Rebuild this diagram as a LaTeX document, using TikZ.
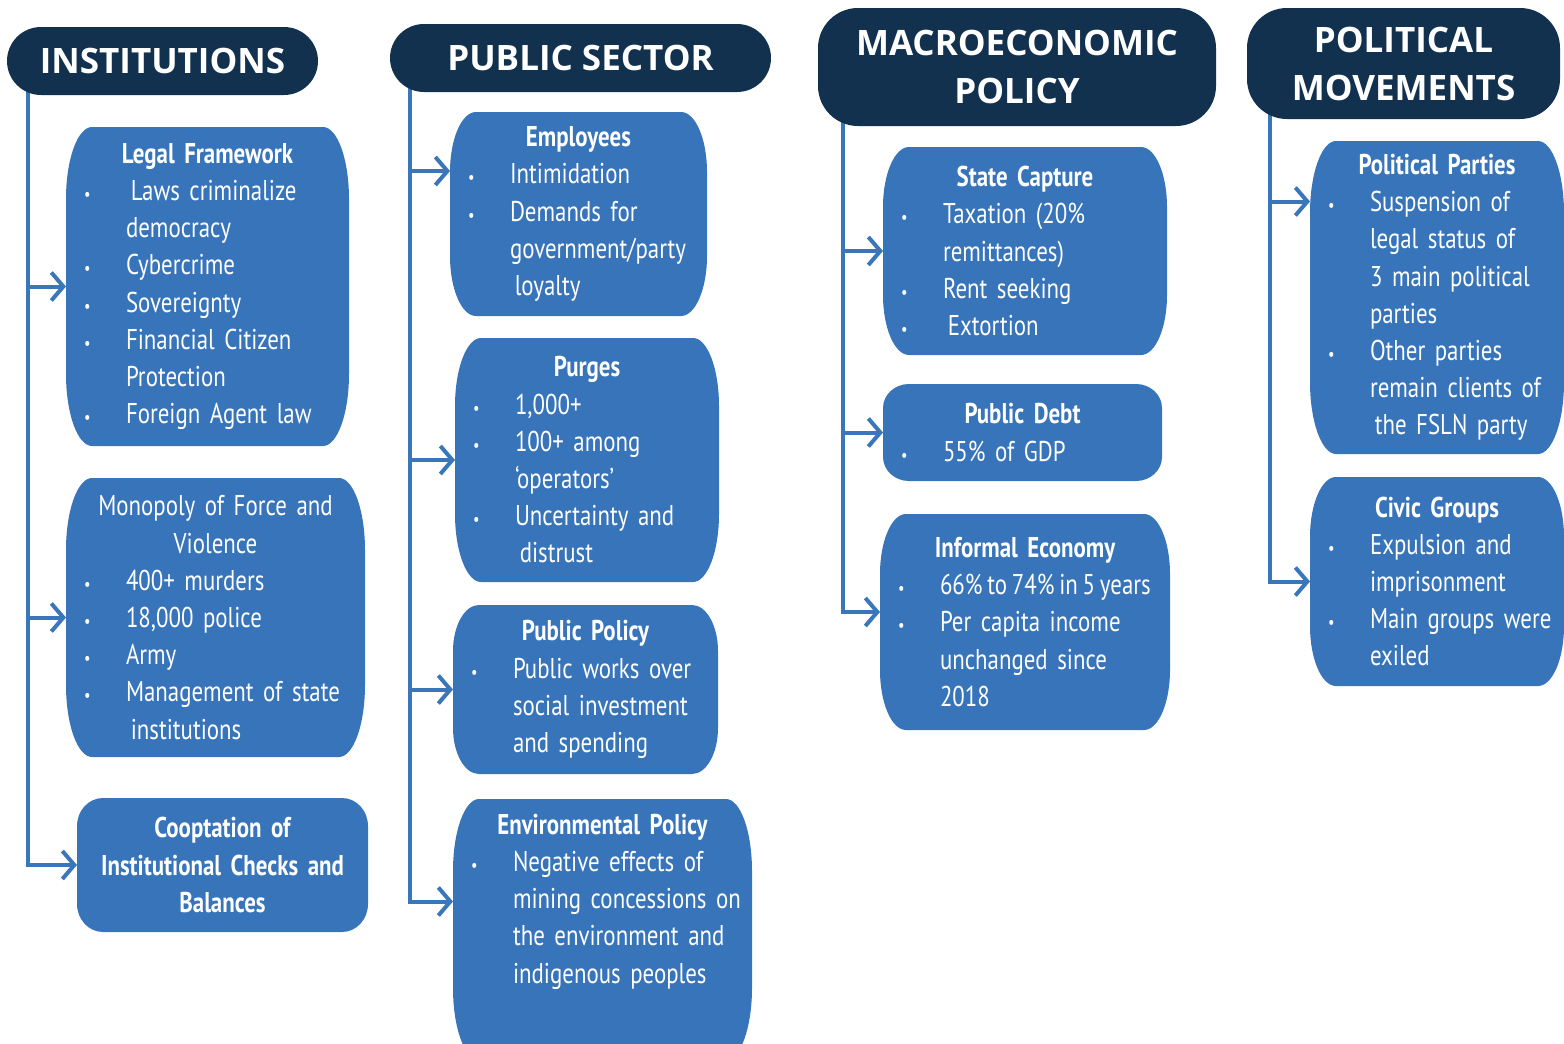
\documentclass[tikz,border=0pt]{standalone}
\usepackage{fontspec}
\setmainfont{PT Sans}[FakeStretch=0.8]
\newfontfamily\hdfont{Open Sans}
\usetikzlibrary{arrows.meta,backgrounds}

\definecolor{navy}{HTML}{12314F}
\definecolor{boxblue}{HTML}{3774B9}
\definecolor{linkblue}{HTML}{3A76BA}

\newcommand\ttl[1]{\mbox{}\hfill\mbox{\bfseries #1}\hfill\mbox{}\par}
\newcommand\ctr[1]{\mbox{}\hfill\mbox{#1}\hfill\mbox{}\par}
\newcommand\bul[1]{\mbox{\makebox[22pt][l]{\hspace*{1pt}\fontsize{9}{9}\selectfont\textbullet}#1}\par}
\newcommand\cnt[1]{\mbox{\hspace*{22pt}#1}\par}

\begin{document}
\begin{tikzpicture}[x=0.5pt,y=-0.5pt,
	head/.style={fill=navy,text=white,align=center,inner sep=0pt,outer sep=0pt,
		font=\hdfont\bfseries\fontsize{17.5}{24}\selectfont},
	topic/.style={text=white,inner xsep=8pt,inner ysep=0pt,outer sep=0pt,
		font=\fontsize{14.3}{18.6}\selectfont},
	feed/.style={draw=linkblue,line width=2pt,-{Straight Barb[length=6pt,width=14pt]}}]
	\useasboundingbox (0,0) rectangle (1564,1044);

	% column heads
	\node[head,minimum width=155.5pt,minimum height=34pt,rounded corners=17pt] (inst) at (162.5,61) {INSTITUTIONS};
	\node[head,minimum width=190.5pt,minimum height=34pt,rounded corners=17pt] (pubsec) at (580.5,58) {PUBLIC SECTOR};
	\node[head,minimum width=199pt,minimum height=59pt,rounded corners=20pt] (macro) at (1017,67) {MACROECONOMIC\\POLICY};
	\node[head,minimum width=156.5pt,minimum height=55.5pt,rounded corners=20pt] (polit) at (1403.5,63.5) {POLITICAL\\MOVEMENTS};

	% institutions
	\node[topic,text width=125.5pt,minimum height=159.5pt] (legal) at (207.5,286.5) {\ttl{Legal Framework}
		\bul{\,Laws criminalize}
		\cnt{democracy}
		\bul{Cybercrime}
		\bul{Sovereignty}
		\bul{Financial Citizen}
		\cnt{Protection}
		\bul{Foreign Agent law}};
	\node[topic,text width=133.5pt,minimum height=139.5pt] (force) at (215.5,617.5) {\ctr{Monopoly of Force and}
		\ctr{Violence}
		\bul{400+ murders}
		\bul{18,000 police}
		\bul{Army}
		\bul{Management of state}
		\cnt{\,institutions}};
	\node[topic,text width=129.5pt,minimum height=67pt] (coop) at (222.5,865) {\ttl{Cooptation of}
		\ttl{Institutional Checks and}
		\ttl{Balances}};

	% public sector
	\node[topic,text width=112.5pt,minimum height=102pt] (staff) at (578.5,214) {\ttl{Employees}
		\bul{Intimidation}
		\bul{Demands for}
		\cnt{government/party}
		\cnt{\,loyalty}};
	\node[topic,text width=116pt,minimum height=122pt] (purge) at (587,460) {\ttl{Purges}
		\bul{1,000+}
		\bul{100+ among}
		\cnt{‘operators’}
		\bul{Uncertainty and}
		\cnt{\,distrust}};
	\node[topic,text width=116.5pt,minimum height=84.5pt] (ppol) at (585.5,689.5) {\ttl{Public Policy}
		\bul{Public works over}
		\cnt{social investment}
		\cnt{and spending}};
	\node[topic,text width=133.5pt,minimum height=102.5pt] (env) at (602.5,901.5) {\ttl{Environmental Policy}
		\bul{Negative effects of}
		\cnt{mining concessions on}
		\cnt{the environment and}
		\cnt{indigenous peoples}};

	% macroeconomic policy
	\node[topic,text width=126pt,minimum height=104pt] (capture) at (1025,251) {\ttl{State Capture}
		\bul{Taxation (20\%}
		\cnt{remittances)}
		\bul{Rent seeking}
		\bul{\,Extortion}};
	\node[topic,text width=123.5pt,minimum height=48.5pt] (debt) at (1022.5,432.5) {\ttl{Public Debt}
		\bul{55\% of GDP}};
	\node[topic,text width=129pt,minimum height=108pt] (informal) at (1025,622) {\ttl{Informal Economy}
		\bul{66\%\,to\,74\%\,in\,5\,years}
		\bul{Per capita income}
		\cnt{unchanged since}
		\cnt{2018}};

	% political movements
	\node[topic,text width=111pt,minimum height=156.5pt] (parties) at (1437,297.5) {\ttl{Political Parties}
		\bul{Suspension of}
		\cnt{legal status of}
		\cnt{3 main political}
		\cnt{parties}
		\bul{Other parties}
		\cnt{remain clients of}
		\cnt{\,the FSLN party}};
	\node[topic,text width=111pt,minimum height=104.5pt] (civic) at (1437,581.5) {\ttl{Civic Groups}
		\bul{Expulsion and}
		\cnt{imprisonment}
		\bul{Main groups were}
		\cnt{exiled}};

	\coordinate (s1) at ([xshift=10.5pt]inst.west);
	\coordinate (s2) at ([xshift=10pt]pubsec.west);
	\coordinate (s3) at ([xshift=12.5pt]macro.west);
	\coordinate (s4) at ([xshift=11.5pt]polit.west);
	\coordinate (staffin) at ([yshift=21.5pt]staff.west);
	\coordinate (informalin) at ([yshift=5pt]informal.west);
	\coordinate (partiesin) at ([yshift=48pt]parties.west);

	\begin{scope}[on background layer]
		\foreach \b/\ry/\dn in {legal/36pt/0pt,force/36pt/0pt,coop/14pt/0pt,staff/30pt/0pt,
			purge/34pt/0pt,ppol/23pt/0pt,env/36pt/28pt,capture/30pt/0pt,debt/12pt/0pt,
			informal/30pt/0pt,parties/36pt/0pt,civic/30pt/0pt}
			\fill[boxblue] ([xshift=13pt]\b.north west) -- ([xshift=-13pt]\b.north east)
				arc[start angle=90,end angle=0,x radius=13pt,y radius=\ry]
				-- ([yshift={\ry-\dn}]\b.south east)
				arc[start angle=0,end angle=-90,x radius=13pt,y radius=\ry]
				-- ([xshift=13pt,yshift=-\dn]\b.south west)
				arc[start angle=270,end angle=180,x radius=13pt,y radius=\ry]
				-- ([yshift=-\ry]\b.north west)
				arc[start angle=180,end angle=90,x radius=13pt,y radius=\ry] -- cycle;

		\draw[feed] (s1) |- (coop.west);
		\draw[feed] (s1 |- legal.west) -- (legal.west);
		\draw[feed] (s1 |- force.west) -- (force.west);

		\draw[feed] (s2) |- (env.west);
		\draw[feed] (s2 |- staffin) -- (staffin);
		\draw[feed] (s2 |- purge.west) -- (purge.west);
		\draw[feed] (s2 |- ppol.west) -- (ppol.west);

		\draw[feed] (s3) |- (informalin);
		\draw[feed] (s3 |- capture.west) -- (capture.west);
		\draw[feed] (s3 |- debt.west) -- (debt.west);

		\draw[feed] (s4) |- (civic.west);
		\draw[feed] (s4 |- partiesin) -- (partiesin);
	\end{scope}
\end{tikzpicture}
\end{document}
